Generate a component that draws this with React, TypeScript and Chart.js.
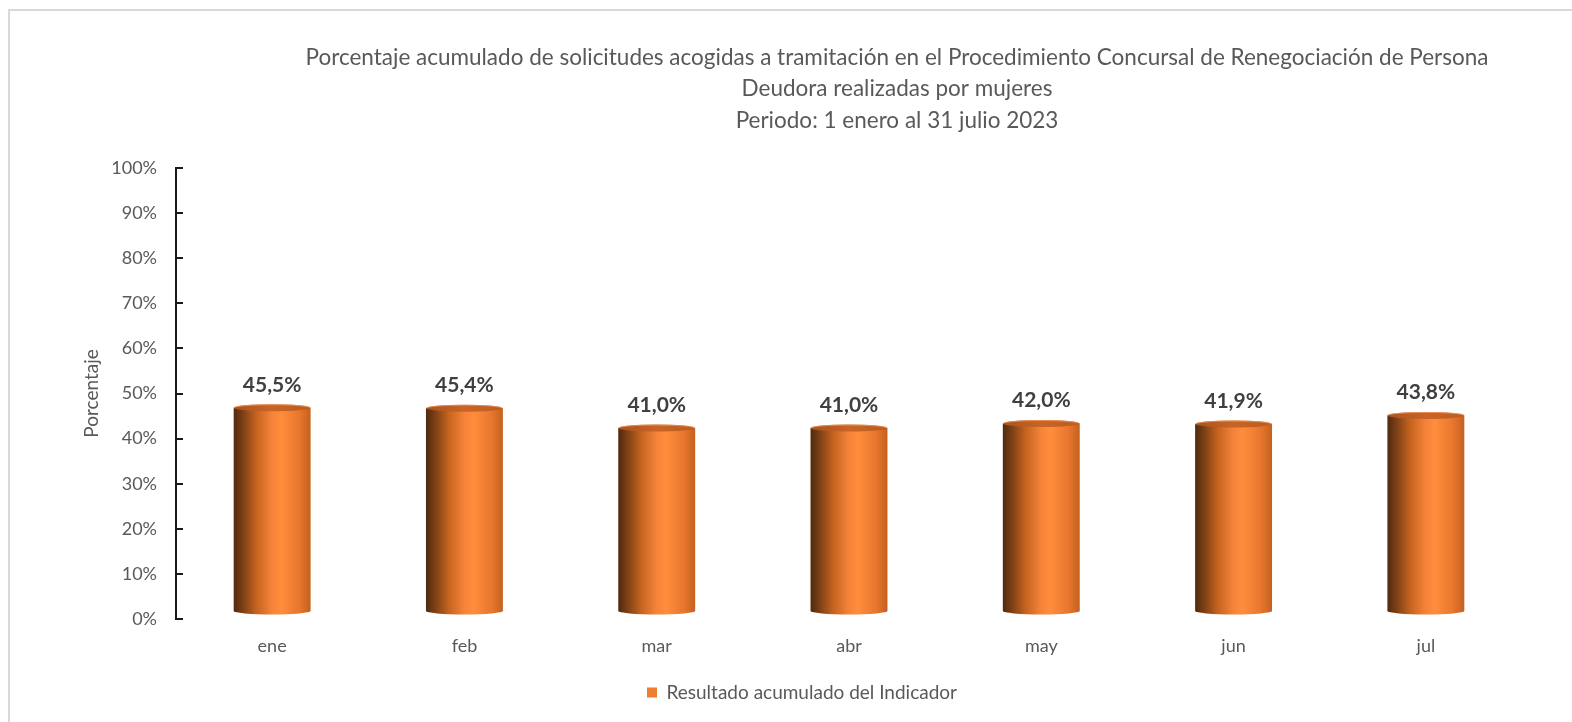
import React, { useEffect, useRef } from "react";
import { Chart, registerables } from "chart.js";

Chart.register(...registerables);

const categories = ["ene", "feb", "mar", "abr", "may", "jun", "jul"];
const values = [45.5, 45.4, 41.0, 41.0, 42.0, 41.9, 43.8];
const yMin = 0;
const yMax = 100;
const yStep = 10;
const titleLines = [
  "Porcentaje acumulado de solicitudes acogidas a tramitación en el Procedimiento Concursal de Renegociación de Persona",
  "Deudora realizadas por mujeres",
  "Periodo: 1 enero al 31 julio 2023",
];
const seriesLabel = "Resultado acumulado del Indicador";
const yAxisTitle = "Porcentaje";

const FONT = "Lato, 'Open Sans', sans-serif";
const GREY = "#595959";

const titlePlugin = {
  id: "customTitle",
  afterDraw(chart: any) {
    const ctx = chart.ctx;
    ctx.save();
    ctx.fillStyle = GREY;
    ctx.font = `22.5px ${FONT}`;
    ctx.textAlign = "center";
    ctx.textBaseline = "middle";
    const ys = [58, 89, 121];
    titleLines.forEach((t, i) => ctx.fillText(t, 897, ys[i]));
    ctx.restore();
  },
};

const axisPlugin = {
  id: "axisLine",
  afterDraw(chart: any) {
    const ctx = chart.ctx;
    const ys = chart.scales.y;
    const { left, top, bottom } = chart.chartArea;
    ctx.save();
    ctx.strokeStyle = "#1a1a1a";
    ctx.lineWidth = 2;
    ctx.beginPath();
    ctx.moveTo(left, top);
    ctx.lineTo(left, bottom);
    ys.ticks.forEach((t: any) => {
      const py = Math.round(ys.getPixelForValue(t.value));
      ctx.moveTo(left - 1, py);
      ctx.lineTo(left + 7, py);
    });
    ctx.stroke();
    ctx.restore();
  },
};

const cylinderPlugin = {
  id: "cylinders",
  beforeDatasetsDraw(chart: any) {
    const ctx = chart.ctx;
    const meta = chart.getDatasetMeta(0);
    meta.data.forEach((bar: any) => {
      const { x, y, base, width } = bar.getProps(["x", "y", "base", "width"], true);
      const rx = width / 2;
      const ry = 3.5;
      const yTop = y - 6;
      const yBot = base - 8;
      const l = x - rx;
      const g = ctx.createLinearGradient(l, 0, x + rx, 0);
      g.addColorStop(0, "#4f2a10");
      g.addColorStop(0.12, "#7d4016");
      g.addColorStop(0.3, "#c7641f");
      g.addColorStop(0.5, "#f5843a");
      g.addColorStop(0.62, "#ff8d3c");
      g.addColorStop(0.85, "#e8772e");
      g.addColorStop(1, "#c4611f");
      ctx.save();
      ctx.fillStyle = g;
      ctx.beginPath();
      ctx.moveTo(l, yTop);
      ctx.lineTo(l, yBot);
      ctx.ellipse(x, yBot, rx, ry, 0, Math.PI, 0, true);
      ctx.lineTo(x + rx, yTop);
      ctx.closePath();
      ctx.fill();
      const tg = ctx.createLinearGradient(l, 0, x + rx, 0);
      tg.addColorStop(0, "#a9531c");
      tg.addColorStop(0.5, "#c96426");
      tg.addColorStop(1, "#bb5c1f");
      ctx.fillStyle = tg;
      ctx.beginPath();
      ctx.ellipse(x, yTop, rx, ry, 0, 0, Math.PI * 2);
      ctx.fill();
      ctx.strokeStyle = "rgba(240,150,90,0.8)";
      ctx.lineWidth = 1;
      ctx.beginPath();
      ctx.ellipse(x, yTop, rx - 0.5, ry - 0.5, 0, Math.PI, Math.PI * 2);
      ctx.stroke();
      ctx.restore();
    });
    return false;
  },
  afterDraw(chart: any) {
    const ctx = chart.ctx;
    const meta = chart.getDatasetMeta(0);
    const data = chart.data.datasets[0].data;
    ctx.save();
    ctx.fillStyle = "#404040";
    ctx.font = `bold 21px ${FONT}`;
    ctx.textAlign = "center";
    ctx.textBaseline = "middle";
    meta.data.forEach((bar: any, i: number) => {
      const { x, y } = bar.getProps(["x", "y"], true);
      const txt = Number(data[i]).toFixed(1).replace(".", ",") + "%";
      ctx.fillText(txt, x, y - 29);
    });
    ctx.restore();
  },
};

export default function App() {
  const ref = useRef<HTMLCanvasElement>(null);
  useEffect(() => {
    if (!ref.current) return;
    const chart = new Chart(ref.current, {
      type: "bar",
      data: {
        labels: categories,
        datasets: [
          {
            label: seriesLabel,
            data: values,
            backgroundColor: "#ed7d31",
            borderWidth: 0,
            barPercentage: 0.4,
            categoryPercentage: 1,
          },
        ],
      },
      options: {
        animation: false,
        responsive: false,
        maintainAspectRatio: false,
        layout: { padding: { left: 82, right: 50, top: 168, bottom: 10 } },
        plugins: {
          title: { display: false },
          tooltip: { enabled: false },
          legend: {
            display: true,
            position: "bottom",
            labels: {
              boxWidth: 10,
              boxHeight: 10,
              padding: 10,
              color: GREY,
              font: { family: FONT, size: 19 },
            },
          },
        },
        scales: {
          x: {
            grid: { display: false, drawTicks: false },
            border: { display: false },
            ticks: { color: GREY, font: { family: FONT, size: 18 }, padding: 16 },
            afterFit: (s: any) => {
              s.height = 54;
            },
          },
          y: {
            min: yMin,
            max: yMax,
            grid: { display: false, drawTicks: false },
            border: { display: false },
            ticks: {
              stepSize: yStep,
              color: GREY,
              font: { family: FONT, size: 18 },
              padding: 19,
              callback: (v: any) => v + "%",
            },
            title: {
              display: true,
              text: yAxisTitle,
              color: GREY,
              font: { family: FONT, size: 19, lineHeight: 1 },
              padding: 0,
            },
            afterFit: (s: any) => {
              s.width = 94;
            },
          },
        },
      },
      plugins: [titlePlugin, axisPlugin, cylinderPlugin],
    });
    return () => chart.destroy();
  }, []);
  return (
    <div style={{ position: "absolute", left: 0, top: 0, width: 1572, height: 722, overflow: "hidden", background: "#fff" }}>
      <div
        style={{
          position: "absolute",
          left: 8,
          top: 9,
          width: 1700,
          height: 800,
          borderTop: "2px solid #d9d9d9",
          borderLeft: "2px solid #d9d9d9",
        }}
      />
      <canvas ref={ref} width={1572} height={722} style={{ position: "absolute", left: 0, top: 0 }} />
    </div>
  );
}
